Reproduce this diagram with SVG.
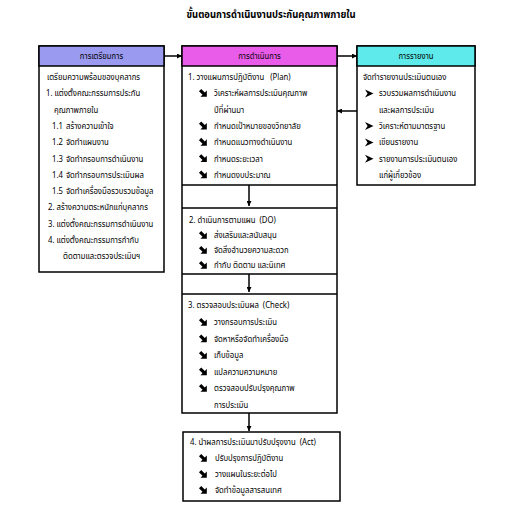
<svg xmlns="http://www.w3.org/2000/svg" xmlns:xlink="http://www.w3.org/1999/xlink" width="521" height="522" viewBox="0 0 521 522">
<style>
text{font-family:"Noto Sans Thai","Liberation Sans",sans-serif;font-size:9px;fill:#000}
.title{font-size:11px;font-weight:bold;text-anchor:middle}
.hd{text-anchor:middle}
.box{fill:#fff;stroke:#000;stroke-width:1.5}
.line{stroke:#000;stroke-width:1.5;fill:none}
.con{stroke:#000;stroke-width:1.5;fill:none}
</style>
<defs>
<marker id="ah" viewBox="0 0 10 10" refX="10" refY="5" markerWidth="5" markerHeight="5" orient="auto" markerUnits="userSpaceOnUse">
<path d="M0,0 L10,5 L0,10 Z" fill="#000"/>
</marker>
<path id="b1" d="M0,2.4 H5 V-0.5 L9.5,4 L5,8.5 V5.6 H0 Z" transform="translate(4.5,4) rotate(45) translate(-4.8,-4)" fill="#000"/>
<path id="b2" d="M0,0 L8.5,4 L0,8 L2.6,4 Z" fill="#000"/>
</defs>
<rect width="521" height="522" fill="#fff"/>
<text class="title" transform="translate(271,18) scale(.86,1)">ขั้นตอนการดำเนินงานประกันคุณภาพภายใน</text>

<g id="prep">
<rect class="box" x="39" y="46" width="125" height="226"/>
<rect x="39" y="46" width="125" height="20" fill="#9a9af0" stroke="#000" stroke-width="1.5"/>
<text class="hd" transform="translate(101.5,59) scale(.86,1)">การเตรียมการ</text>
<text transform="translate(47,80) scale(.86,1)">เตรียมความพร้อมของบุคลากร</text>
<text transform="translate(46,96.3) scale(.86,1)">1. แต่งตั้งคณะกรรมการประกัน</text>
<text transform="translate(54,112.6) scale(.86,1)">คุณภาพภายใน</text>
<text transform="translate(52,128.9) scale(.86,1)">1.1</text><text transform="translate(66,128.9) scale(.86,1)">สร้างความเข้าใจ</text>
<text transform="translate(52,145.2) scale(.86,1)">1.2</text><text transform="translate(66,145.2) scale(.86,1)">จัดทำแผนงาน</text>
<text transform="translate(52,161.5) scale(.86,1)">1.3</text><text transform="translate(66,161.5) scale(.86,1)">จัดทำกรอบการดำเนินงาน</text>
<text transform="translate(52,177.8) scale(.86,1)">1.4</text><text transform="translate(66,177.8) scale(.86,1)">จัดทำกรอบการประเมินผล</text>
<text transform="translate(52,194.1) scale(.86,1)">1.5</text><text transform="translate(66,194.1) scale(.86,1)">จัดทำเครื่องมือรวบรวมข้อมูล</text>
<text transform="translate(48,210.4) scale(.86,1)">2. สร้างความตระหนักแก่บุคลากร</text>
<text transform="translate(48,226.7) scale(.86,1)">3. แต่งตั้งคณะกรรมการดำเนินงาน</text>
<text transform="translate(48,243) scale(.86,1)">4. แต่งตั้งคณะกรรมการกำกับ</text>
<text transform="translate(63,259.3) scale(.86,1)">ติดตามและตรวจประเมินฯ</text>
</g>

<g id="operate">
<rect class="box" x="182" y="46" width="155" height="367"/>
<rect x="182" y="46" width="155" height="20" fill="#e95ce9" stroke="#000" stroke-width="1.5"/>
<text class="hd" transform="translate(259.5,59) scale(.86,1)">การดำเนินการ</text>
<line class="line" x1="182" y1="185" x2="337" y2="185"/>
<line class="line" x1="182" y1="208" x2="337" y2="208"/>
<line class="line" x1="182" y1="274" x2="337" y2="274"/>
<line class="line" x1="182" y1="294" x2="337" y2="294"/>
</g>

<g id="plan">
<text transform="translate(188,80) scale(.86,1)" xml:space="preserve">1. วางแผนการปฏิบัติงาน   (Plan)</text>
<use xlink:href="#b1" x="199" y="89.5"/><text transform="translate(214,96.3) scale(.86,1)">วิเคราะห์ผลการประเมินคุณภาพ</text>
<text transform="translate(214,112.6) scale(.86,1)">ปีที่ผ่านมา</text>
<use xlink:href="#b1" x="199" y="122.1"/><text transform="translate(214,128.9) scale(.86,1)">กำหนดเป้าหมายของวิทยาลัย</text>
<use xlink:href="#b1" x="199" y="138.4"/><text transform="translate(214,145.2) scale(.86,1)">กำหนดแนวทางดำเนินงาน</text>
<use xlink:href="#b1" x="199" y="154.7"/><text transform="translate(214,161.5) scale(.86,1)">กำหนดระยะเวลา</text>
<use xlink:href="#b1" x="199" y="171"/><text transform="translate(214,177.8) scale(.86,1)">กำหนดงบประมาณ</text>
</g>

<g id="do">
<text transform="translate(189,223) scale(.86,1)" xml:space="preserve">2. ดำเนินการตามแผน  (DO)</text>
<use xlink:href="#b1" x="199" y="231.5"/><text transform="translate(214,238) scale(.86,1)">ส่งเสริมและสนับสนุน</text>
<use xlink:href="#b1" x="199" y="246.5"/><text transform="translate(214,253) scale(.86,1)">จัดสิ่งอำนวยความสะดวก</text>
<use xlink:href="#b1" x="199" y="261.5"/><text transform="translate(214,268) scale(.86,1)">กำกับ ติดตาม และนิเทศ</text>
</g>

<g id="check">
<text transform="translate(188,308) scale(.86,1)" xml:space="preserve">3. ตรวจสอบประเมินผล  (Check)</text>
<use xlink:href="#b1" x="199" y="318.5"/><text transform="translate(214,325) scale(.86,1)">วางกรอบการประเมิน</text>
<use xlink:href="#b1" x="199" y="335"/><text transform="translate(214,341.5) scale(.86,1)">จัดหาหรือจัดทำเครื่องมือ</text>
<use xlink:href="#b1" x="199" y="351.5"/><text transform="translate(214,358) scale(.86,1)">เก็บข้อมูล</text>
<use xlink:href="#b1" x="199" y="368"/><text transform="translate(214,374.5) scale(.86,1)">แปลความความหมาย</text>
<use xlink:href="#b1" x="199" y="384.5"/><text transform="translate(214,391) scale(.86,1)">ตรวจสอบปรับปรุงคุณภาพ</text>
<text transform="translate(214,407.5) scale(.86,1)">การประเมิน</text>
</g>

<g id="act">
<rect class="box" x="183" y="432" width="157" height="69"/>
<text transform="translate(190,445) scale(.86,1)" xml:space="preserve">4. นำผลการประเมินมาปรับปรุงงาน  (Act)</text>
<use xlink:href="#b1" x="199" y="454.5"/><text transform="translate(215,461) scale(.86,1)">ปรับปรุงการปฏิบัติงาน</text>
<use xlink:href="#b1" x="199" y="470.5"/><text transform="translate(215,477) scale(.86,1)">วางแผนในระยะต่อไป</text>
<use xlink:href="#b1" x="199" y="486.5"/><text transform="translate(215,493) scale(.86,1)">จัดทำข้อมูลสารสนเทศ</text>
</g>

<g id="report">
<rect class="box" x="357" y="46" width="118" height="139"/>
<rect x="357" y="46" width="118" height="20" fill="#5eeaea" stroke="#000" stroke-width="1.5"/>
<text class="hd" transform="translate(416,59) scale(.86,1)">การรายงาน</text>
<text transform="translate(363,80) scale(.86,1)">จัดทำรายงานประเมินตนเอง</text>
<use xlink:href="#b2" x="365" y="89.5"/><text transform="translate(379,96.3) scale(.86,1)">รวบรวมผลการดำเนินงาน</text>
<text transform="translate(379,112.6) scale(.86,1)">และผลการประเมิน</text>
<use xlink:href="#b2" x="365" y="122.1"/><text transform="translate(379,128.9) scale(.86,1)">วิเคราะห์ตามมาตรฐาน</text>
<use xlink:href="#b2" x="365" y="138.4"/><text transform="translate(379,145.2) scale(.86,1)">เขียนรายงาน</text>
<use xlink:href="#b2" x="365" y="154.7"/><text transform="translate(379,161.5) scale(.86,1)">รายงานการประเมินตนเอง</text>
<text transform="translate(379,177.8) scale(.86,1)">แก่ผู้เกี่ยวข้อง</text>
</g>

<g id="connectors">
<line class="con" x1="164" y1="56" x2="182" y2="56" marker-end="url(#ah)"/>
<line class="con" x1="337" y1="56" x2="357" y2="56" marker-end="url(#ah)"/>
<line class="con" x1="357" y1="111" x2="337" y2="111" marker-end="url(#ah)"/>
<line class="con" x1="249" y1="185" x2="249" y2="206" marker-end="url(#ah)"/>
<line class="con" x1="249" y1="274" x2="249" y2="292" marker-end="url(#ah)"/>
<line class="con" x1="249" y1="413" x2="249" y2="431" marker-end="url(#ah)"/>
</g>
</svg>
